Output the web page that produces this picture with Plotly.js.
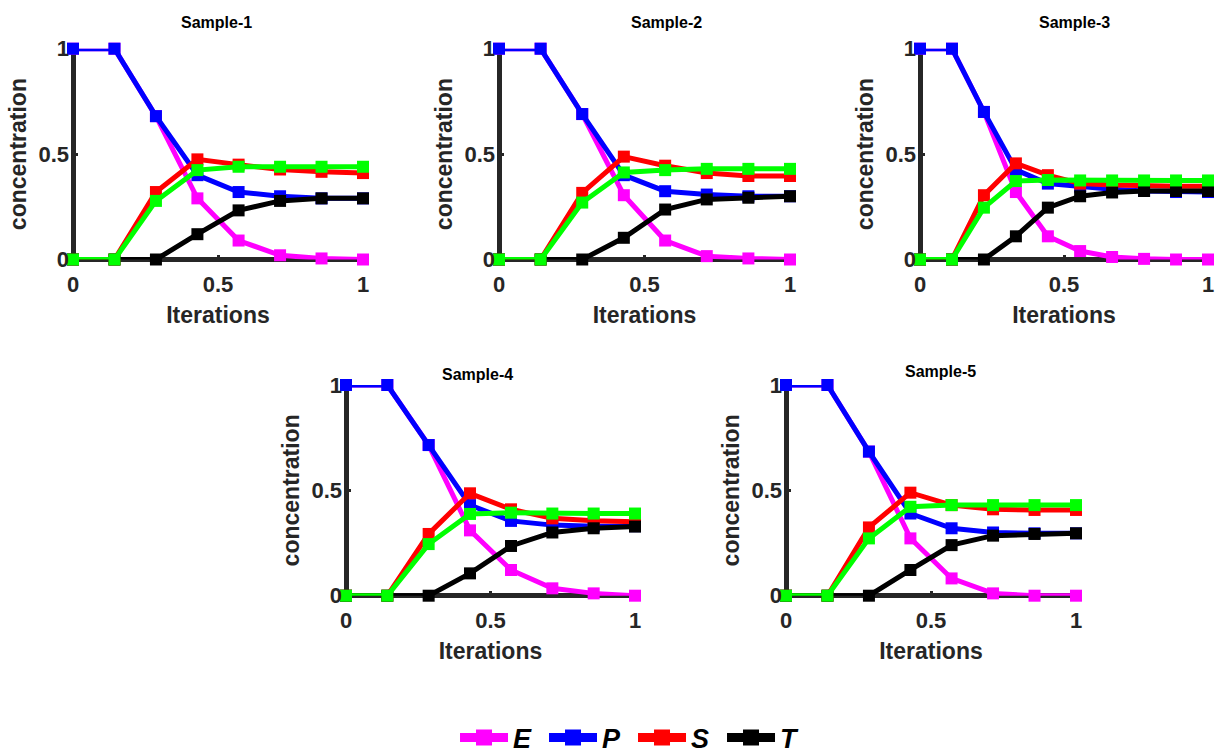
<!DOCTYPE html>
<html>
<head>
<meta charset="utf-8">
<script src="https://cdn.plot.ly/plotly-3.0.1.min.js"></script>
<style>html,body{margin:0;padding:0;background:#fff;}#chart{width:1215px;height:755px;}</style>
</head>
<body>
<div id="chart"></div>
<script>
// ---- data ----
const sampleNames = ['Sample-1', 'Sample-2', 'Sample-3', 'Sample-4', 'Sample-5'];
const speciesNames = ['E', 'P', 'S', 'T', 'G'];
const iter8 = [0, 0.143, 0.286, 0.429, 0.571, 0.714, 0.857, 1];
const iter10 = [0, 0.111, 0.222, 0.333, 0.444, 0.556, 0.667, 0.778, 0.889, 1];

const s1E = [1, 1, 0.68, 0.29, 0.09, 0.02, 0.005, 0];
const s1P = [1, 1, 0.68, 0.40, 0.32, 0.30, 0.29, 0.29];
const s1S = [0, 0, 0.32, 0.475, 0.45, 0.427, 0.416, 0.41];
const s1T = [0, 0, 0, 0.12, 0.233, 0.278, 0.29, 0.29];
const s1G = [0, 0, 0.278, 0.424, 0.44, 0.44, 0.44, 0.44];

const s2E = [1, 1, 0.69, 0.305, 0.09, 0.016, 0.005, 0];
const s2P = [1, 1, 0.69, 0.40, 0.324, 0.308, 0.30, 0.30];
const s2S = [0, 0, 0.316, 0.488, 0.445, 0.41, 0.396, 0.396];
const s2T = [0, 0, 0, 0.103, 0.237, 0.285, 0.293, 0.30];
const s2G = [0, 0, 0.27, 0.413, 0.424, 0.43, 0.43, 0.43];

const s3E = [1, 1, 0.70, 0.32, 0.11, 0.04, 0.012, 0.003, 0, 0];
const s3P = [1, 1, 0.70, 0.425, 0.36, 0.345, 0.333, 0.325, 0.32, 0.32];
const s3S = [0, 0, 0.305, 0.456, 0.40, 0.36, 0.353, 0.348, 0.348, 0.348];
const s3T = [0, 0, 0, 0.11, 0.246, 0.30, 0.318, 0.325, 0.325, 0.325];
const s3G = [0, 0, 0.246, 0.372, 0.377, 0.375, 0.375, 0.375, 0.375, 0.375];

const s4E = [1, 1, 0.715, 0.31, 0.122, 0.035, 0.011, 0];
const s4P = [1, 1, 0.715, 0.43, 0.355, 0.335, 0.33, 0.33];
const s4S = [0, 0, 0.293, 0.486, 0.41, 0.367, 0.356, 0.351];
const s4T = [0, 0, 0, 0.106, 0.236, 0.30, 0.32, 0.328];
const s4G = [0, 0, 0.245, 0.388, 0.394, 0.39, 0.39, 0.39];

const s5E = [1, 1, 0.684, 0.272, 0.082, 0.011, 0, 0];
const s5P = [1, 1, 0.684, 0.39, 0.32, 0.30, 0.296, 0.296];
const s5S = [0, 0, 0.324, 0.489, 0.43, 0.41, 0.407, 0.407];
const s5T = [0, 0, 0, 0.122, 0.24, 0.285, 0.293, 0.296];
const s5G = [0, 0, 0.272, 0.422, 0.43, 0.43, 0.43, 0.43];

const tickVals = [0, 0.5, 1];
const tickText = ['0', '0.5', '1'];

// ---- build ----
const samples = [
  {x: iter8, ys: [s1E, s1P, s1S, s1T, s1G]},
  {x: iter8, ys: [s2E, s2P, s2S, s2T, s2G]},
  {x: iter10, ys: [s3E, s3P, s3S, s3T, s3G]},
  {x: iter8, ys: [s4E, s4P, s4S, s4T, s4G]},
  {x: iter8, ys: [s5E, s5P, s5S, s5T, s5G]}
];
const colors = ['#ff00ff', '#0000ff', '#ff0000', '#000000', '#00ff00'];

const W = 1215, H = 755;
// pixel boxes [left, right, top, bottom]
const boxes = [
  [73, 363, 48.7, 259.5],
  [499, 790, 48.7, 259.5],
  [920, 1208, 48.7, 259.5],
  [346, 635, 385, 595.7],
  [786, 1076, 385, 595.7]
];
const titlePos = [[217, 23], [666, 23], [1074, 23], [477, 374], [940, 372]];

const FONT = 'Liberation Sans, Arial, Helvetica, sans-serif';
const AX = '#262626';

const traces = [];
const layout = {
  width: W, height: H,
  margin: {l: 0, r: 0, t: 0, b: 0, autoexpand: false},
  paper_bgcolor: '#ffffff', plot_bgcolor: 'rgba(0,0,0,0)',
  showlegend: true,
  legend: {
    orientation: 'h', x: 0.521, xanchor: 'center', y: 1 - 738 / 755, yanchor: 'middle',
    font: {family: FONT, size: 27, color: '#000', weight: 'bold', style: 'italic'},
    itemwidth: 48, entrywidth: 26, entrywidthmode: 'pixels', bgcolor: 'rgba(0,0,0,0)'
  },
  annotations: [],
  font: {family: FONT, color: AX}
};

samples.forEach((s, i) => {
  const k = i + 1;
  const xa = 'x' + (k === 1 ? '' : k), ya = 'y' + (k === 1 ? '' : k);
  s.ys.forEach((y, j) => {
    traces.push({
      type: 'scatter', mode: 'lines+markers',
      x: s.x, y: y, xaxis: xa, yaxis: ya,
      name: speciesNames[j],
      showlegend: false,
      cliponaxis: false,
      line: {color: colors[j], width: 5},
      marker: {color: colors[j], symbol: 'square', size: 12},
      hoverinfo: 'skip'
    });
  });
  const b = boxes[i];
  const axCommon = {
    range: [0, 1], showgrid: false, showline: false,
    zeroline: true, zerolinecolor: AX, zerolinewidth: 5,
    ticks: 'inside', ticklen: 5, tickwidth: 3, tickcolor: AX,
    tickmode: 'array', tickvals: tickVals, ticktext: tickText,
    tickfont: {family: FONT, size: 22, color: AX, weight: 'bold'},
    fixedrange: true, automargin: false
  };
  layout['xaxis' + (k === 1 ? '' : k)] = Object.assign({}, axCommon, {
    domain: [b[0] / W, b[1] / W], anchor: ya,
    ticklabelstandoff: 9,
    title: {text: 'Iterations', standoff: 11, font: {family: FONT, size: 23, color: AX, weight: 'bold'}}
  });
  layout['yaxis' + (k === 1 ? '' : k)] = Object.assign({}, axCommon, {
    domain: [1 - b[3] / H, 1 - b[2] / H], anchor: xa,
    ticklabelstandoff: 3,
    title: {text: 'concentration', standoff: 5, font: {family: FONT, size: 23, color: AX, weight: 'bold'}}
  });
  layout.annotations.push({
    text: sampleNames[i], xref: 'paper', yref: 'paper',
    x: titlePos[i][0] / W, y: 1 - titlePos[i][1] / H,
    xanchor: 'center', yanchor: 'middle', showarrow: false,
    font: {family: FONT, size: 16, color: '#000', weight: 'bold'}
  });
});

// legend-only entries (no data points), styled like the reference legend keys
speciesNames.slice(0, 4).forEach((nm, j) => {
  traces.push({
    type: 'scatter', mode: 'lines+markers', x: [null], y: [null],
    name: nm, showlegend: true,
    line: {color: colors[j], width: 9},
    marker: {color: colors[j], symbol: 'square', size: 16},
    hoverinfo: 'skip'
  });
});

Plotly.newPlot('chart', traces, layout, {displayModeBar: false, staticPlot: true});
</script>
</body>
</html>
